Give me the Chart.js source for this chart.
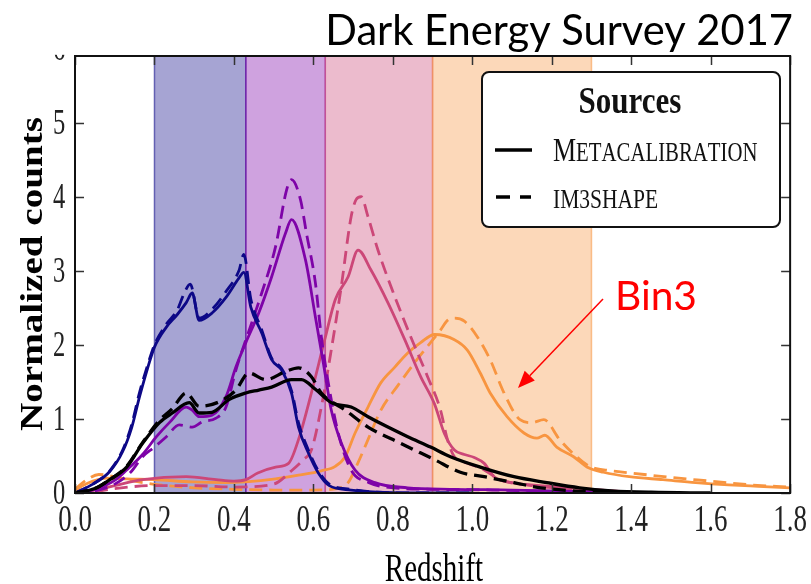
<!DOCTYPE html>
<html><head><meta charset="utf-8">
<script src="https://cdn.jsdelivr.net/npm/chart.js@4.4.0/dist/chart.umd.min.js"></script>
<style>html,body{margin:0;padding:0;background:#fff;}#wrap{width:811px;height:584px;position:relative;}</style>
</head><body><div id="wrap"><canvas id="c" width="811" height="584"></canvas></div>
<script>
// ---- tick values / bins ----
const xTickValues = [0, 0.2, 0.4, 0.6, 0.8, 1.0, 1.2, 1.4, 1.6, 1.8];
const yTickValues = [0, 1, 2, 3, 4, 5, 6];
const bandEdges = [0.2, 0.43, 0.63, 0.90, 1.30];
const binColors = ['#0d0887', '#7e03a8', '#cc4778', '#f89540'];
const chartTitle = 'Dark Energy Survey 2017';
const annotationText = 'Bin3';
const legendTitle = 'Sources';
const seriesNames = ['Metacalibration', 'im3shape'];

// ---- series (redshift z, normalized counts n) ----
const bin1MetaZ = [0, 0.045, 0.0875, 0.12, 0.1425, 0.1625, 0.1825, 0.2, 0.23, 0.2575, 0.28, 0.295, 0.3125, 0.345, 0.38, 0.4125, 0.425, 0.4425, 0.47, 0.495, 0.52, 0.545, 0.5625, 0.5875, 0.6125, 0.64, 0.695, 0.76, 0.85, 1.0];
const bin1MetaN = [0, 0.12, 0.29, 0.56, 0.88, 1.30, 1.68, 1.97, 2.24, 2.41, 2.57, 2.70, 2.33, 2.43, 2.64, 2.90, 2.98, 2.51, 2.16, 1.80, 1.66, 1.35, 0.89, 0.54, 0.27, 0.10, 0.04, 0.01, 0.0, 0];
const bin1Im3Z = [0, 0.045, 0.0875, 0.12, 0.1425, 0.1625, 0.1825, 0.2, 0.23, 0.2575, 0.275, 0.29, 0.3125, 0.345, 0.38, 0.4125, 0.425, 0.4425, 0.47, 0.495, 0.52, 0.545, 0.5625, 0.5875, 0.6125, 0.64, 0.695, 0.76, 0.85, 1.0];
const bin1Im3N = [0, 0.12, 0.30, 0.58, 0.92, 1.36, 1.72, 2.00, 2.28, 2.47, 2.70, 2.82, 2.36, 2.48, 2.72, 3.00, 3.22, 2.62, 2.20, 1.82, 1.68, 1.38, 0.95, 0.58, 0.30, 0.12, 0.05, 0.01, 0, 0];

const bin2MetaZ = [0, 0.05, 0.1, 0.13, 0.17, 0.205, 0.2375, 0.28, 0.295, 0.3125, 0.345, 0.38, 0.405, 0.43, 0.4625, 0.495, 0.53, 0.545, 0.58, 0.605, 0.625, 0.645, 0.67, 0.705, 0.755, 0.8375, 0.95, 1.1, 1.25, 1.4];
const bin2MetaN = [0, 0.05, 0.17, 0.31, 0.52, 0.76, 0.95, 1.16, 1.12, 1.03, 1.05, 1.30, 1.70, 2.03, 2.43, 2.92, 3.51, 3.69, 3.15, 2.38, 1.76, 1.12, 0.68, 0.31, 0.14, 0.07, 0.05, 0.04, 0.02, 0];
const bin2Im3Z = [0, 0.05, 0.1, 0.14, 0.17, 0.2, 0.23, 0.2625, 0.295, 0.32, 0.355, 0.38, 0.405, 0.445, 0.47, 0.505, 0.5325, 0.545, 0.5675, 0.5825, 0.605, 0.62, 0.6375, 0.6625, 0.695, 0.74, 0.8, 0.9, 1.05, 1.2, 1.4];
const bin2Im3N = [0, 0.03, 0.12, 0.28, 0.49, 0.62, 0.76, 0.92, 0.89, 0.96, 1.01, 1.16, 1.66, 2.30, 2.70, 3.33, 4.09, 4.23, 3.96, 3.51, 2.84, 2.11, 1.49, 0.81, 0.31, 0.14, 0.07, 0.05, 0.04, 0.02, 0];

const bin3MetaZ = [0, 0.05, 0.1, 0.17, 0.28, 0.355, 0.4, 0.43, 0.46, 0.505, 0.5375, 0.5625, 0.595, 0.63, 0.655, 0.6875, 0.7125, 0.745, 0.7875, 0.83, 0.87, 0.905, 0.93, 0.955, 0.98, 1.005, 1.03, 1.055, 1.1, 1.2, 1.3, 1.4];
const bin3MetaN = [0, 0.04, 0.10, 0.18, 0.22, 0.18, 0.16, 0.18, 0.27, 0.35, 0.40, 0.72, 1.35, 2.10, 2.61, 2.92, 3.28, 3.01, 2.57, 2.07, 1.57, 1.20, 0.80, 0.58, 0.52, 0.48, 0.40, 0.22, 0.14, 0.09, 0.05, 0.01];
const bin3Im3Z = [0, 0.05, 0.1, 0.2, 0.3, 0.4, 0.5, 0.545, 0.575, 0.595, 0.62, 0.645, 0.67, 0.695, 0.7075, 0.72, 0.7375, 0.7625, 0.805, 0.845, 0.8875, 0.92, 0.9375, 0.955, 0.99, 1.03, 1.07, 1.15, 1.25, 1.35];
const bin3Im3N = [0, 0.02, 0.06, 0.10, 0.10, 0.08, 0.12, 0.30, 0.45, 0.58, 1.16, 1.93, 2.78, 3.73, 3.96, 4.00, 3.73, 3.28, 2.65, 2.11, 1.57, 1.12, 0.72, 0.49, 0.40, 0.31, 0.18, 0.10, 0.05, 0];

const bin4MetaZ = [0, 0.02, 0.045, 0.08, 0.13, 0.2, 0.295, 0.38, 0.43, 0.505, 0.5625, 0.62, 0.655, 0.68, 0.705, 0.7375, 0.77, 0.805, 0.8375, 0.87, 0.905, 0.955, 0.9875, 1.02, 1.045, 1.0875, 1.13, 1.1625, 1.1825, 1.2125, 1.255, 1.2925, 1.33, 1.395, 1.48, 1.5625, 1.645, 1.72, 1.8];
const bin4MetaN = [0.03, 0.10, 0.16, 0.20, 0.19, 0.18, 0.15, 0.14, 0.15, 0.19, 0.24, 0.30, 0.36, 0.49, 0.81, 1.16, 1.49, 1.70, 1.89, 2.03, 2.14, 2.07, 1.93, 1.62, 1.35, 1.03, 0.81, 0.74, 0.78, 0.62, 0.49, 0.34, 0.28, 0.22, 0.18, 0.14, 0.11, 0.09, 0.07];
const bin4Im3Z = [0, 0.03, 0.06, 0.1, 0.15, 0.2125, 0.3, 0.4, 0.5, 0.6, 0.66, 0.6875, 0.7125, 0.7375, 0.77, 0.8125, 0.855, 0.8875, 0.92, 0.9375, 0.955, 0.98, 1.0125, 1.045, 1.08, 1.12, 1.15, 1.18, 1.22, 1.2625, 1.295, 1.35, 1.4, 1.5, 1.6, 1.7, 1.8];
const bin4Im3N = [0.05, 0.18, 0.25, 0.22, 0.16, 0.11, 0.07, 0.05, 0.04, 0.04, 0.06, 0.14, 0.41, 0.72, 1.12, 1.45, 1.76, 1.98, 2.20, 2.33, 2.36, 2.32, 2.11, 1.80, 1.35, 0.99, 0.95, 0.99, 0.72, 0.49, 0.36, 0.30, 0.27, 0.21, 0.16, 0.11, 0.08];

const allMetaZ = [0, 0.05, 0.0875, 0.13, 0.17, 0.2125, 0.245, 0.2875, 0.3125, 0.345, 0.3875, 0.43, 0.4625, 0.495, 0.545, 0.57, 0.605, 0.645, 0.695, 0.7375, 0.7875, 0.8375, 0.895, 0.945, 1.02, 1.105, 1.1875, 1.27, 1.35, 1.45, 1.6];
const allMetaN = [0, 0.06, 0.18, 0.35, 0.67, 0.95, 1.08, 1.22, 1.08, 1.09, 1.26, 1.35, 1.39, 1.43, 1.53, 1.53, 1.40, 1.22, 1.16, 1.03, 0.89, 0.76, 0.62, 0.49, 0.35, 0.22, 0.14, 0.07, 0.03, 0.01, 0];
const allIm3Z = [0, 0.05, 0.0875, 0.13, 0.17, 0.2125, 0.245, 0.28, 0.3125, 0.3625, 0.405, 0.4375, 0.48, 0.53, 0.5625, 0.595, 0.62, 0.68, 0.7375, 0.82, 0.905, 0.97, 1.03, 1.105, 1.16, 1.25, 1.35];
const allIm3N = [0, 0.06, 0.18, 0.36, 0.68, 0.98, 1.14, 1.35, 1.17, 1.23, 1.39, 1.62, 1.53, 1.64, 1.69, 1.57, 1.35, 1.12, 0.89, 0.67, 0.45, 0.28, 0.22, 0.14, 0.08, 0.03, 0];

// ---- helpers ----
const pts = (zs, ns) => zs.map((z, i) => ({x: z, y: ns[i]}));
function hexA(hex, a) {
  const r = parseInt(hex.slice(1,3),16), g = parseInt(hex.slice(3,5),16), b = parseInt(hex.slice(5,7),16);
  return `rgba(${r},${g},${b},${a})`;
}
const DASH = [13, 7];
function ds(label, zs, ns, color, dashed, width) {
  return {label, data: pts(zs, ns), borderColor: color, borderWidth: width,
    borderDash: dashed ? DASH : [], pointRadius: 0, fill: false,
    cubicInterpolationMode: 'monotone', borderCapStyle: 'butt', borderJoinStyle: 'round'};
}
const datasets = [
  ds('All Metacalibration', allMetaZ, allMetaN, '#000000', false, 3.3),
  ds('All im3shape', allIm3Z, allIm3N, '#000000', true, 3.3),
  ds('Bin1 Metacalibration', bin1MetaZ, bin1MetaN, binColors[0], false, 2.8),
  ds('Bin1 im3shape', bin1Im3Z, bin1Im3N, binColors[0], true, 2.8),
  ds('Bin2 Metacalibration', bin2MetaZ, bin2MetaN, binColors[1], false, 2.8),
  ds('Bin2 im3shape', bin2Im3Z, bin2Im3N, binColors[1], true, 2.8),
  ds('Bin3 Metacalibration', bin3MetaZ, bin3MetaN, binColors[2], false, 2.8),
  ds('Bin3 im3shape', bin3Im3Z, bin3Im3N, binColors[2], true, 2.8),
  ds('Bin4 Metacalibration', bin4MetaZ, bin4MetaN, binColors[3], false, 2.8),
  ds('Bin4 im3shape', bin4Im3Z, bin4Im3N, binColors[3], true, 2.8)
];

const SERIF = '"Liberation Serif", "DejaVu Serif", serif';
const SANS = 'Lato, "Open Sans", "Liberation Sans", sans-serif';

// shaded redshift bins behind the curves
const bandsPlugin = {
  id: 'bands',
  beforeDatasetsDraw(chart) {
    const {ctx, chartArea: a, scales: {x}} = chart;
    ctx.save();
    for (let i = 0; i < bandEdges.length - 1; i++) {
      const x1 = x.getPixelForValue(bandEdges[i]), x2 = x.getPixelForValue(bandEdges[i+1]);
      ctx.fillStyle = hexA(binColors[i], 0.37);
      ctx.fillRect(x1, a.top, x2 - x1, a.bottom - a.top);
      ctx.strokeStyle = hexA(binColors[i], 0.55);
      ctx.lineWidth = 1.5;
      ctx.beginPath();
      ctx.moveTo(x1, a.top); ctx.lineTo(x1, a.bottom);
      ctx.moveTo(x2, a.top); ctx.lineTo(x2, a.bottom);
      ctx.stroke();
    }
    ctx.restore();
  }
};

// frame with inward ticks on all four sides
const framePlugin = {
  id: 'frame',
  afterDatasetsDraw(chart) {
    const {ctx, chartArea: a, scales: {x, y}} = chart;
    ctx.save();
    ctx.strokeStyle = '#333'; ctx.lineWidth = 1.5;
    const L = 9;
    ctx.beginPath();
    xTickValues.forEach(v => {
      if (v < x.min || v > x.max) return;
      const p = Math.round(x.getPixelForValue(v)) + 0.5;
      ctx.moveTo(p, a.bottom); ctx.lineTo(p, a.bottom - L);
      ctx.moveTo(p, a.top); ctx.lineTo(p, a.top + L);
    });
    yTickValues.forEach(v => {
      if (v < y.min || v > y.max) return;
      const p = Math.round(y.getPixelForValue(v)) + 0.5;
      ctx.moveTo(a.left, p); ctx.lineTo(a.left + L, p);
      ctx.moveTo(a.right, p); ctx.lineTo(a.right - L, p);
    });
    ctx.stroke();
    ctx.strokeStyle = '#111'; ctx.lineWidth = 2;
    ctx.strokeRect(a.left, a.top, a.right - a.left, a.bottom - a.top);
    ctx.restore();
  }
};

// stretch library tick labels like the reference's tall serif digits
const labelStretchPlugin = {
  id: 'labelStretch',
  beforeDraw(chart) {
    const xs = chart.scales.x, ys = chart.scales.y;
    if (!xs._stretched) {
      const o = xs.drawLabels;
      xs.drawLabels = function(area) {
        const c = this.ctx; c.save();
        const y0 = this.top; c.translate(0, y0); c.scale(1, 1.4); c.translate(0, -y0);
        o.call(this, area); c.restore();
      };
      xs._stretched = true;
    }
    if (!ys._stretched) {
      const o = ys.drawLabels;
      ys.drawLabels = function(area) {
        const c = this.ctx; c.save();
        const x0 = this.right; c.translate(x0, 0); c.scale(0.7, 1); c.translate(-x0, 0);
        o.call(this, area); c.restore();
      };
      ys._stretched = true;
    }
  }
};

function smallCaps(ctx, text, x, y, big, small) {
  let cx = x;
  for (const ch of text) {
    const isUpper = ch === ch.toUpperCase() && /[A-Z]/.test(ch);
    ctx.font = `${isUpper ? big : small}px ${SERIF}`;
    const s = ch.toUpperCase();
    ctx.fillText(s, cx, y);
    cx += ctx.measureText(s).width;
  }
}

const overlayPlugin = {
  id: 'overlay',
  afterDraw(chart) {
    const {ctx, chartArea: a} = chart;
    ctx.save();
    // white strip above the plot (title area)
    ctx.fillStyle = '#fff';
    ctx.fillRect(0, 0, chart.width, a.top - 1.2);

    // title
    ctx.fillStyle = '#000';
    ctx.textBaseline = 'alphabetic';
    ctx.font = `44px ${SANS}`;
    let w = ctx.measureText(chartTitle).width;
    let fs = 44 * 468 / w;
    ctx.font = `${fs}px ${SANS}`;
    ctx.textAlign = 'right';
    ctx.fillText(chartTitle, 793, 45);

    // axis titles
    ctx.textAlign = 'center';
    ctx.font = `bold 32px ${SERIF}`;
    w = ctx.measureText('Normalized counts').width;
    ctx.save();
    ctx.translate(42, 274);
    ctx.rotate(-Math.PI / 2);
    ctx.scale(314 / w, 1);
    ctx.fillText('Normalized counts', 0, 0);
    ctx.restore();

    ctx.font = `29px ${SERIF}`;
    ctx.save();
    ctx.translate(434, 581);
    ctx.scale(1, 1.35);
    ctx.fillText('Redshift', 0, 0);
    ctx.restore();

    // Bin3 annotation
    ctx.fillStyle = '#ff0000';
    ctx.textAlign = 'left';
    ctx.font = `44px ${SANS}`;
    w = ctx.measureText(annotationText).width;
    ctx.font = `${44 * 82 / w}px ${SANS}`;
    ctx.fillText(annotationText, 615, 310);
    const sx = 603, sy = 299, tx = 518, ty = 388;
    const ang = Math.atan2(ty - sy, tx - sx);
    const hl = 17, hw = 7;
    const bx = tx - hl * Math.cos(ang), by = ty - hl * Math.sin(ang);
    ctx.strokeStyle = '#ff0000'; ctx.lineWidth = 1.5;
    ctx.beginPath(); ctx.moveTo(sx, sy); ctx.lineTo(bx, by); ctx.stroke();
    ctx.beginPath();
    ctx.moveTo(tx, ty);
    ctx.lineTo(bx + hw * Math.sin(ang), by - hw * Math.cos(ang));
    ctx.lineTo(bx - hw * Math.sin(ang), by + hw * Math.cos(ang));
    ctx.closePath(); ctx.fill();

    // legend box
    const lx = 482, ly = 72, lw = 298, lh = 155, r = 7;
    ctx.beginPath();
    ctx.moveTo(lx + r, ly); ctx.lineTo(lx + lw - r, ly); ctx.arcTo(lx + lw, ly, lx + lw, ly + r, r);
    ctx.lineTo(lx + lw, ly + lh - r); ctx.arcTo(lx + lw, ly + lh, lx + lw - r, ly + lh, r);
    ctx.lineTo(lx + r, ly + lh); ctx.arcTo(lx, ly + lh, lx, ly + lh - r, r);
    ctx.lineTo(lx, ly + r); ctx.arcTo(lx, ly, lx + r, ly, r); ctx.closePath();
    ctx.fillStyle = '#fff'; ctx.fill();
    ctx.strokeStyle = '#111'; ctx.lineWidth = 2; ctx.stroke();

    ctx.fillStyle = '#111';
    ctx.textAlign = 'center';
    ctx.font = `bold 31px ${SERIF}`;
    ctx.save(); ctx.translate(630, 113); ctx.scale(1, 1.25);
    ctx.fillText(legendTitle, 0, 0); ctx.restore();

    ctx.strokeStyle = '#000'; ctx.lineWidth = 3.5;
    ctx.beginPath(); ctx.moveTo(495, 150); ctx.lineTo(532, 150); ctx.stroke();
    ctx.beginPath(); ctx.moveTo(496, 197); ctx.lineTo(510, 197);
    ctx.moveTo(520, 197); ctx.lineTo(531, 197); ctx.stroke();

    ctx.textAlign = 'left';
    ctx.save(); ctx.translate(553, 161); ctx.scale(1, 1.3);
    smallCaps(ctx, seriesNames[0], 0, 0, 26, 20.8);
    ctx.restore();
    ctx.save(); ctx.translate(553, 208); ctx.scale(1, 1.25);
    smallCaps(ctx, seriesNames[1], 0, 0, 26, 21.5);
    ctx.restore();

    ctx.restore();
  }
};

new Chart(document.getElementById('c'), {
  type: 'line',
  data: {datasets},
  options: {
    responsive: false,
    devicePixelRatio: 1,
    animation: false,
    layout: {padding: {top: 56, right: 17, left: 0, bottom: 0}},
    plugins: {legend: {display: false}, tooltip: {enabled: false}, title: {display: false}},
    scales: {
      x: {
        type: 'linear', min: 0, max: 1.8,
        afterBuildTicks: s => { s.ticks = xTickValues.map(v => ({value: v})); },
        afterFit: s => { s.height = 91; },
        grid: {display: false, drawTicks: false},
        border: {display: false},
        ticks: {font: {family: SERIF, size: 27}, color: '#222', padding: 4, maxRotation: 0,
          callback: v => Number(v).toFixed(1)}
      },
      y: {
        type: 'linear', min: 0, max: 5.9,
        afterBuildTicks: s => { s.ticks = yTickValues.map(v => ({value: v})); },
        afterFit: s => { s.width = 75; },
        grid: {display: false, drawTicks: false},
        border: {display: false},
        ticks: {font: {family: SERIF, size: 35}, color: '#222', padding: 14, labelOffset: 2,
          callback: v => String(v)}
      }
    }
  },
  plugins: [labelStretchPlugin, bandsPlugin, framePlugin, overlayPlugin]
});
</script>
</body></html>
